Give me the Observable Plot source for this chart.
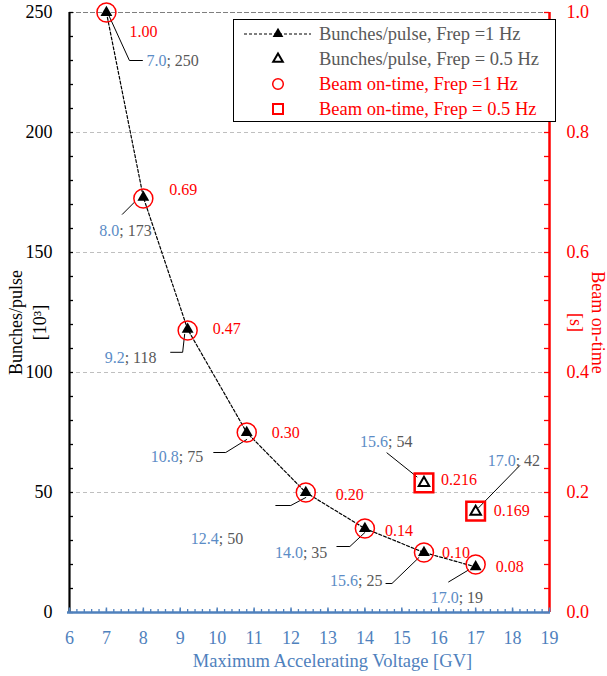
<!DOCTYPE html>
<html>
<head>
<meta charset="utf-8">
<script src="https://cdn.jsdelivr.net/npm/d3@7"></script>
<script src="https://cdn.jsdelivr.net/npm/@observablehq/plot@0.6"></script>
<style>
  html, body { margin: 0; padding: 0; background: #fff; }
  #wrap { position: relative; width: 607px; height: 676px; font-family: "Liberation Serif", "Times New Roman", serif; }
  #legend { position: absolute; left: 233px; top: 19px; width: 321px; height: 101px; border: 1px solid #000; background: #fff; }
</style>
</head>
<body>
<div id="wrap"><div id="legend"></div></div>
<script>
// ---------------- data ----------------
const voltage1Hz   = [7.0, 8.0, 9.2, 10.8, 12.4, 14.0, 15.6, 17.0];   // GV
const bunches1Hz   = [250, 173, 118, 75, 50, 35, 25, 19];            // 10^3 bunches/pulse
const onTime1Hz    = [1.00, 0.69, 0.47, 0.30, 0.20, 0.14, 0.10, 0.08]; // s
const voltageHalfHz = [15.6, 17.0];
const bunchesHalfHz = [54, 42];
const onTimeHalfHz  = [0.216, 0.169];
const xTicks = [6, 7, 8, 9, 10, 11, 12, 13, 14, 15, 16, 17, 18, 19];
const yTicks = [0, 50, 100, 150, 200, 250];
const onTimeTicks = [0.0, 0.2, 0.4, 0.6, 0.8, 1.0];
const legendLabels = [
  "Bunches/pulse, Frep =1 Hz",
  "Bunches/pulse, Frep = 0.5 Hz",
  "Beam on-time, Frep =1 Hz",
  "Beam on-time, Frep = 0.5 Hz"
];
const xTitle = "Maximum Accelerating Voltage [GV]";
const yTitle = ["Bunches/pulse", "[10³]"];
const y2Title = ["Beam on-time", "[s]"];

// ---------------- layout (pixels) ----------------
const W = 607, H = 676, mL = 69, mR = 58, mT = 12, mB = 64;
const xMin = 6, xMax = 19, yMin = 0, yMax = 250;
const secPerUnit = onTimeTicks[onTimeTicks.length - 1] / yMax; // 1.0 s <-> 250
const kx = (W - mL - mR) / (xMax - xMin);
const ky = (H - mT - mB) / (yMax - yMin);
// label offsets (px) relative to each marker: [dx, dy]
const valueLabelOffsets1 = [[60,48],[-24,34],[-63,29],[-68,24],[-87,46],[-62,24],[-66,28],[-17,31]];
const valueLabelOffsetsH = [[-36,-41],[40,-51]];
const leaderOffsets1 = [
  [[2,2],[23,48],[36,48]], [[-9,5],[-21,17]], [[-3,5],[-5,23],[-17,23]], [[0,7],[-21,20],[-33,20]],
  [[0,5],[-15,13],[-30,13]], [[0,4],[-15,18],[-28,18]], [[-5,5],[-32,31],[-38,31]], [[-7,3],[-27,15]]
];
const leaderOffsetsH = [[[-7,-6],[-37,-30]], [[3,-4],[44,-46]]];
const timeLabelOffsets1 = [[23,19],[26,-7],[25,0],[25,0],[30,2],[20,2],[18,0],[20,0]];
const timeLabelOffsetsH = [[17,-3],[18,-1]];

const BLUE = "#4f81bd", LBLUE = "#5b8cc6", GRAY = "#595959", RED = "#ff0000";

const s1 = voltage1Hz.map((v, i) => ({v, b: bunches1Hz[i], t: onTime1Hz[i], dec: 2,
  lo: valueLabelOffsets1[i], le: leaderOffsets1[i], to: timeLabelOffsets1[i]}));
const sH = voltageHalfHz.map((v, i) => ({v, b: bunchesHalfHz[i], t: onTimeHalfHz[i], dec: 3,
  lo: valueLabelOffsetsH[i], le: leaderOffsetsH[i], to: timeLabelOffsetsH[i]}));
const all = [...s1, ...sH];

const px2x = (v, dx) => v + dx / kx;
const px2y = (b, dy) => b - dy / ky;

const marks = [];
// grid lines
marks.push(Plot.ruleY(yTicks.filter(d => d > 0 && d < yMax), {stroke: "#bfbfbf", strokeDasharray: "4,3", strokeWidth: 1}));
marks.push(Plot.ruleY([yMax], {stroke: "#7f7f7f", strokeDasharray: "5,2", strokeWidth: 1.2}));

// axis lines and inward ticks
const yMinor = d3.range(0, yMax + 0.001, 10);
marks.push(Plot.ruleY(yMinor, {x1: xMin, x2: px2x(xMin, 4), stroke: "black", strokeWidth: 1.3}));
marks.push(Plot.ruleY(yMinor, {x1: px2x(xMax, -5), x2: xMax, stroke: RED, strokeWidth: 1.3}));
marks.push(Plot.ruleX([xMin], {stroke: "black", strokeWidth: 2.2}));
marks.push(Plot.ruleX([xMax], {stroke: RED, strokeWidth: 2.5}));
const xMinor = d3.range(xMin, xMax + 0.001, 0.2).map(d => +d.toFixed(1));
marks.push(Plot.ruleX(xMinor, {y1: 0, y2: 3 / ky, stroke: BLUE, strokeWidth: 1.3}));
marks.push(Plot.ruleX(xTicks, {y1: 0, y2: 4.5 / ky, stroke: BLUE, strokeWidth: 1.5}));
marks.push(Plot.ruleY([0], {x1: xMin - 2 / kx, x2: xMax + 1 / kx, stroke: BLUE, strokeWidth: 2.5}));

// dashed connecting line (1 Hz)
marks.push(Plot.line(s1, {x: "v", y: "b", stroke: "black", strokeDasharray: "3,2", strokeWidth: 1.2}));

// leader lines
all.forEach(d => {
  const pts = d.le.map(([dx, dy]) => ({x: px2x(d.v, dx), y: px2y(d.b, dy)}));
  marks.push(Plot.line(pts, {x: "x", y: "y", stroke: "black", strokeWidth: 1}));
});

// markers
marks.push(Plot.dot(s1, {x: "v", y: d => d.t / secPerUnit, r: 9.5, stroke: RED, strokeWidth: 1.5, fill: "none"}));
marks.push(Plot.dot(sH, {x: "v", y: d => d.t / secPerUnit, symbol: "square", r: 10.5, stroke: RED, strokeWidth: 2.5, fill: "none"}));
marks.push(Plot.dot(s1, {x: "v", y: "b", symbol: "triangle", r: 4.4, fill: "black", stroke: "none"}));
marks.push(Plot.dot(sH, {x: "v", y: "b", symbol: "triangle", r: 3.9, fill: "white", stroke: "black", strokeWidth: 2}));

// value labels: blue voltage + gray bunches, red on-time
all.forEach(d => {
  marks.push(Plot.text([d], {x: "v", y: "b", text: d => d.v.toFixed(1), textAnchor: "end",
    dx: d.lo[0], dy: d.lo[1], fill: LBLUE, fontSize: 16}));
  marks.push(Plot.text([d], {x: "v", y: "b", text: d => "; " + d.b, textAnchor: "start",
    dx: d.lo[0], dy: d.lo[1], fill: GRAY, fontSize: 16}));
  marks.push(Plot.text([d], {x: "v", y: "b", text: d => d.t.toFixed(d.dec), textAnchor: "start",
    dx: d.to[0], dy: d.to[1], fill: RED, fontSize: 16}));
});

// axes
marks.push(Plot.axisY({anchor: "left", ticks: yTicks, tickSize: 0, tickPadding: 17, tickFormat: d => d, label: null, color: "black"}));
marks.push(Plot.axisY({anchor: "right", ticks: yTicks, tickSize: 0, tickPadding: 17,
  tickFormat: d => (d * secPerUnit).toFixed(1), label: null, color: RED}));
marks.push(Plot.axisX({anchor: "bottom", ticks: xTicks, tickSize: 0, tickPadding: 19, tickFormat: d => d, label: null, color: BLUE}));

// titles
marks.push(Plot.text([xTitle], {frameAnchor: "bottom", textAnchor: "middle", dx: 23, dy: 54, fill: BLUE, fontSize: 18.5}));
marks.push(Plot.text([yTitle[0]], {frameAnchor: "left", textAnchor: "middle", rotate: -90, dx: -53, dy: 10, fill: "black", fontSize: 18}));
marks.push(Plot.text([yTitle[1]], {frameAnchor: "left", textAnchor: "middle", rotate: -90, dx: -29, dy: 10, fill: "black", fontSize: 18}));
marks.push(Plot.text([y2Title[0]], {frameAnchor: "right", textAnchor: "middle", rotate: 90, dx: 48, dy: 10, fill: RED, fontSize: 18}));
marks.push(Plot.text([y2Title[1]], {frameAnchor: "right", textAnchor: "middle", rotate: 90, dx: 26, dy: 10, fill: RED, fontSize: 18}));

const chart = Plot.plot({
  width: W, height: H,
  marginLeft: mL, marginRight: mR, marginTop: mT, marginBottom: mB,
  x: {domain: [xMin, xMax], axis: null, label: null},
  y: {domain: [yMin, yMax], axis: null, label: null},
  style: {fontFamily: '"Liberation Serif", "Times New Roman", serif', fontSize: "18px", background: "white", overflow: "visible"},
  marks
});
document.getElementById("wrap").insertBefore(chart, document.getElementById("legend"));

// legend
const lg = d3.select("#legend").append("svg").attr("width", 321).attr("height", 101)
  .style("position", "absolute").style("left", 0).style("top", 0);
const rowY = [14, 39, 64, 89], symX = 44, textX = 85;
const tri = d3.symbol(d3.symbolTriangle);
lg.append("line").attr("x1", 10).attr("x2", 77).attr("y1", rowY[0]).attr("y2", rowY[0])
  .attr("stroke", "black").attr("stroke-width", 1.2).attr("stroke-dasharray", "3,2");
lg.append("path").attr("d", tri.size(50)()).attr("transform", `translate(${symX},${rowY[0]})`).attr("fill", "black");
lg.append("path").attr("d", tri.size(40)()).attr("transform", `translate(${symX},${rowY[1]})`)
  .attr("fill", "white").attr("stroke", "black").attr("stroke-width", 2);
lg.append("circle").attr("cx", symX).attr("cy", rowY[2]).attr("r", 5.3).attr("fill", "none").attr("stroke", RED).attr("stroke-width", 1.5);
lg.append("rect").attr("x", symX - 5).attr("y", rowY[3] - 5).attr("width", 10).attr("height", 10)
  .attr("fill", "none").attr("stroke", RED).attr("stroke-width", 2);
legendLabels.forEach((t, i) => {
  lg.append("text").attr("x", textX).attr("y", rowY[i]).attr("dy", "0.35em")
    .attr("fill", i < 2 ? GRAY : RED).attr("font-size", "18.5px")
    .attr("font-family", '"Liberation Serif", "Times New Roman", serif').text(t);
});
</script>
</body>
</html>
